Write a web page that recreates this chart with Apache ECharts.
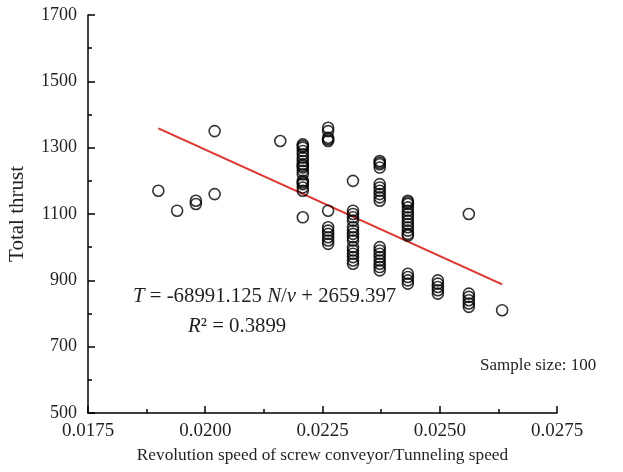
<!DOCTYPE html>
<html>
<head>
<meta charset="utf-8">
<script src="https://cdn.jsdelivr.net/npm/echarts@6/dist/echarts.min.js"></script>
<style>html,body{margin:0;padding:0;background:#fff;}#c{width:623px;height:472px;}</style>
</head>
<body>
<div id="c"></div>
<script>
// x positions of each vertical group and their thrust values
const groupX = [0.0190, 0.0194, 0.0198, 0.0202, 0.0216, 0.02208, 0.02262, 0.02315, 0.02372, 0.02432, 0.02496, 0.02562, 0.02633];
const groupY = [
  [1170],
  [1110],
  [1140, 1130],
  [1350, 1160],
  [1320],
  [1310, 1305, 1300, 1290, 1280, 1270, 1260, 1250, 1245, 1240, 1230, 1220, 1200, 1195, 1190, 1180, 1170, 1090],
  [1360, 1350, 1330, 1325, 1320, 1110, 1060, 1050, 1040, 1030, 1020, 1010],
  [1200, 1110, 1100, 1090, 1080, 1060, 1050, 1040, 1030, 1020, 1000, 990, 980, 970, 960, 950],
  [1260, 1255, 1250, 1240, 1190, 1180, 1170, 1160, 1150, 1140, 1000, 990, 980, 970, 960, 950, 940, 930],
  [1140, 1135, 1130, 1120, 1110, 1100, 1090, 1080, 1070, 1060, 1050, 1040, 1035, 920, 910, 900, 890],
  [900, 890, 880, 870, 860],
  [1100, 860, 850, 840, 830, 820],
  [810]
];
const fitLineX = [0.0190, 0.02633];
const fitLineY = [1358, 888];
const xTicks = { min: 0.0175, max: 0.0275, interval: 0.0025 };
const yTicks = { min: 500, max: 1700, interval: 200 };

const points = [];
groupX.forEach((x, i) => groupY[i].forEach(y => points.push([x, y])));
const fitLine = fitLineX.map((x, i) => [x, fitLineY[i]]);

const FONT = 'Liberation Serif';
const TXT = '#231f20';
const chart = echarts.init(document.getElementById('c'));
chart.setOption({
  animation: false,
  backgroundColor: '#fff',
  textStyle: { fontFamily: FONT },
  grid: { left: 88, right: 66, top: 15, bottom: 59, containLabel: false, outerBoundsMode: 'none' },
  xAxis: {
    type: 'value', min: xTicks.min, max: xTicks.max, interval: xTicks.interval,
    name: 'Revolution speed of screw conveyor/Tunneling speed',
    nameLocation: 'middle', nameGap: 34,
    nameTextStyle: { fontFamily: FONT, fontSize: 17.3, color: TXT },
    axisLine: { lineStyle: { color: '#000', width: 1.5 } },
    axisTick: { inside: true, length: 7, lineStyle: { color: '#000', width: 1.5 } },
    minorTick: { show: true, splitNumber: 2, length: 4, lineStyle: { color: '#000', width: 1.5 } },
    axisLabel: { fontFamily: FONT, fontSize: 19, color: TXT, margin: 9, formatter: v => v.toFixed(4) },
    splitLine: { show: false }
  },
  yAxis: {
    type: 'value', min: yTicks.min, max: yTicks.max, interval: yTicks.interval,
    name: 'Total thrust', nameLocation: 'middle', nameGap: 60,
    nameTextStyle: { fontFamily: FONT, fontSize: 21, color: TXT },
    axisLine: { lineStyle: { color: '#000', width: 1.5 } },
    axisTick: { inside: true, length: 7, lineStyle: { color: '#000', width: 1.5 } },
    minorTick: { show: true, splitNumber: 2, length: 4, lineStyle: { color: '#000', width: 1.5 } },
    axisLabel: { fontFamily: FONT, fontSize: 18, color: TXT, margin: 11, formatter: v => String(v) },
    splitLine: { show: false }
  },
  series: [
    {
      type: 'scatter', data: points, symbol: 'circle', symbolSize: 11,
      itemStyle: { color: 'rgba(0,0,0,0)', borderColor: '#000', borderWidth: 1.6 },
      z: 3
    },
    {
      type: 'line', data: fitLine, symbol: 'none',
      lineStyle: { color: '#e8302a', width: 2 }, z: 2
    }
  ],
  graphic: [
    {
      type: 'text', left: 133, top: 286,
      style: {
        text: '{i|T} = -68991.125 {i|N}/{i|v} + 2659.397',
        font: '20.8px "Liberation Serif"', fill: TXT,
        rich: { i: { fontStyle: 'italic', fontFamily: FONT, fontSize: 20.8 } }
      }
    },
    {
      type: 'text', left: 188, top: 316,
      style: {
        text: '{i|R}² = 0.3899',
        font: '20.8px "Liberation Serif"', fill: TXT,
        rich: { i: { fontStyle: 'italic', fontFamily: FONT, fontSize: 20.8 } }
      }
    },
    {
      type: 'text', left: 480, top: 357,
      style: { text: 'Sample size: 100', font: '17px "Liberation Serif"', fill: TXT }
    }
  ]
});
</script>
</body>
</html>
